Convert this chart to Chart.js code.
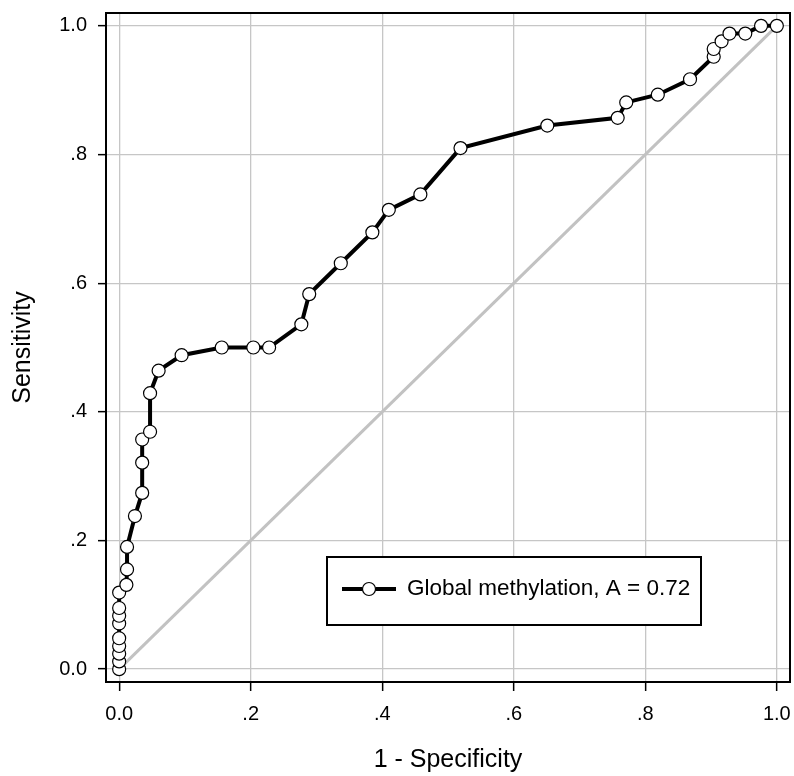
<!DOCTYPE html>
<html>
<head>
<meta charset="utf-8">
<title>ROC curve - Global methylation</title>
<script src="https://cdn.jsdelivr.net/npm/chart.js@4.4.1/dist/chart.umd.min.js"></script>
<style>
  body { margin: 0; background: #ffffff; }
  #wrap { width: 794px; height: 776px; }
</style>
</head>
<body>
<div id="wrap"><canvas id="rocChart" width="794" height="776"></canvas></div>
<script>
// ---------------------------- Chart data -----------------------------------//
// 1 - specificity (false positive rate) for each cut-off
const fpr = [
  0, 0, 0, 0, 0, 0, 0, 0, 0,
  0.011, 0.012, 0.012, 0.024, 0.035, 0.035, 0.035, 0.047, 0.047, 0.060,
  0.095, 0.156, 0.204, 0.228, 0.277, 0.289, 0.337, 0.385, 0.410, 0.458,
  0.519, 0.651, 0.758, 0.771, 0.819, 0.868, 0.904, 0.904, 0.916, 0.928,
  0.952, 0.976, 1.0
];
// sensitivity (true positive rate) for each cut-off
const tpr = [
  0, 0.012, 0.024, 0.036, 0.048, 0.071, 0.083, 0.095, 0.119,
  0.131, 0.155, 0.190, 0.238, 0.274, 0.321, 0.357, 0.369, 0.429, 0.464,
  0.488, 0.500, 0.500, 0.500, 0.536, 0.583, 0.631, 0.679, 0.714, 0.738,
  0.810, 0.845, 0.857, 0.881, 0.893, 0.917, 0.952, 0.964, 0.976, 0.988,
  0.988, 1.0, 1.0
];
// reference (chance) line
const diagX = [0, 1];
const diagY = [0, 1];

// axis ticks
const tickVals = [0, 0.2, 0.4, 0.6, 0.8, 1.0];
const xTickLabels = ['0.0', '.2', '.4', '.6', '.8', '1.0'];
const yTickLabels = ['0.0', '.2', '.4', '.6', '.8', '1.0'];

const seriesLabel = 'Global methylation, A = 0.72';

// ------------------------- Helpers ------------------------------------------//
function toPoints(xs, ys) {
  return xs.map((x, i) => ({ x: x, y: ys[i] }));
}

// Draws the outer frame of the plot region and the boxed legend inside it
const frameAndLegend = {
  id: 'frameAndLegend',
  afterDraw(chart) {
    const ctx = chart.ctx;
    const a = chart.chartArea;
    ctx.save();

    // frame round the plot
    ctx.strokeStyle = '#000';
    ctx.lineWidth = 2;
    ctx.strokeRect(a.left, a.top, a.right - a.left, a.bottom - a.top);

    // legend box
    const bx = 327, by = 557, bw = 374, bh = 68;
    ctx.fillStyle = '#fff';
    ctx.fillRect(bx, by, bw, bh);
    ctx.strokeRect(bx, by, bw, bh);

    const cy = by + bh / 2 - 2;
    // line sample with marker
    ctx.lineWidth = 4;
    ctx.beginPath();
    ctx.moveTo(bx + 15, cy);
    ctx.lineTo(bx + 69, cy);
    ctx.stroke();
    ctx.beginPath();
    ctx.arc(bx + 42, cy, 6.5, 0, Math.PI * 2);
    ctx.fillStyle = '#fff';
    ctx.fill();
    ctx.lineWidth = 1.2;
    ctx.stroke();

    // legend text
    ctx.fillStyle = '#000';
    ctx.font = '22.5px "Liberation Sans", Arial, sans-serif';
    ctx.textBaseline = 'middle';
    ctx.textAlign = 'left';
    ctx.fillText(chart.data.datasets[0].label, bx + 80, cy);

    ctx.restore();
  }
};

// ------------------------- Build the chart ----------------------------------//
Chart.defaults.font.family = '"Liberation Sans", Arial, sans-serif';
Chart.defaults.color = '#000';

const rocCanvas = document.getElementById('rocChart');
const rocChart = new Chart(rocCanvas, {
  type: 'line',
  data: {
    datasets: [
      {
        label: seriesLabel,
        data: toPoints(fpr, tpr),
        borderColor: '#000',
        borderWidth: 4,
        pointRadius: 6.5,
        pointBackgroundColor: '#fff',
        pointBorderColor: '#000',
        pointBorderWidth: 1.2,
        fill: false,
        tension: 0
      },
      {
        label: 'Reference',
        data: toPoints(diagX, diagY),
        borderColor: '#c2c2c2',
        borderWidth: 3,
        pointRadius: 0,
        fill: false,
        tension: 0
      }
    ]
  },
  options: {
    responsive: false,
    animation: false,
    layout: {
      autoPadding: false,   // points stay inside the frame anyway
      padding: { top: 13, right: 4, left: 0, bottom: 0 }
    },
    scales: {
      x: {
        type: 'linear',
        min: -0.02,
        max: 1.02,
        afterBuildTicks: (axis) => { axis.ticks = tickVals.map(v => ({ value: v })); },
        afterFit: (axis) => {
          axis.height = 94;
          axis.paddingLeft = 0;   // don't let the end labels push the plot inwards
          axis.paddingRight = 0;
        },
        ticks: {
          callback: (value, index) => xTickLabels[index],
          font: { size: 20 },
          color: '#000',
          padding: 11,
          maxRotation: 0,
          autoSkip: false
        },
        grid: { color: '#c6c6c6', lineWidth: 1.3, tickLength: 9, tickColor: '#000', tickWidth: 1.5 },
        border: { display: false },
        title: {
          display: true,
          text: '1 - Specificity',
          font: { size: 25 },
          color: '#000',
          padding: { top: 0, bottom: 1 }
        }
      },
      y: {
        type: 'linear',
        min: -0.02,
        max: 1.02,
        afterBuildTicks: (axis) => { axis.ticks = tickVals.map(v => ({ value: v })); },
        afterFit: (axis) => {
          axis.width = 106;
          axis.paddingTop = 0;
          axis.paddingBottom = 0;
        },
        ticks: {
          callback: (value, index) => yTickLabels[index],
          font: { size: 20 },
          color: '#000',
          padding: 11,
          autoSkip: false
        },
        grid: { color: '#c6c6c6', lineWidth: 1.3, tickLength: 8, tickColor: '#000', tickWidth: 1.5 },
        border: { display: false },
        title: {
          display: true,
          text: 'Sensitivity',
          font: { size: 25 },
          color: '#000',
          padding: { top: 8, bottom: 0 }
        }
      }
    },
    plugins: {
      legend: { display: false },
      tooltip: { enabled: false }
    }
  },
  plugins: [frameAndLegend]
});
</script>
</body>
</html>
